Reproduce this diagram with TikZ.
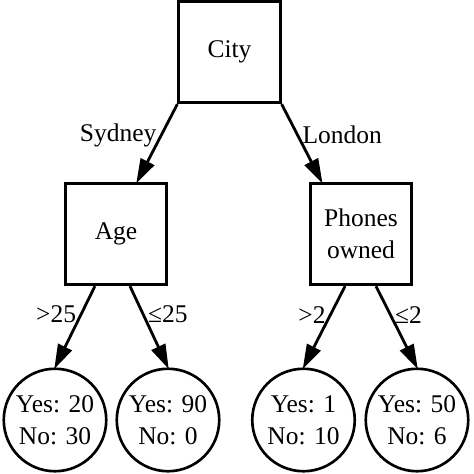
\documentclass[tikz,border=0pt]{standalone}
\usepackage{fontspec}
\setmainfont{Liberation Serif}
\usetikzlibrary{arrows.meta}

\begin{document}
\begin{tikzpicture}[x=0.02cm, y=-0.02cm, >={Triangle[length=14pt,width=8.5pt]},
  every node/.style={font=\fontsize{14.5}{18}\selectfont},
  test/.style={draw, line width=1.6pt, minimum size=2.03cm, align=center, inner sep=0pt},
  leaf/.style={draw, circle, line width=1.5pt, minimum size=2.05cm, align=center, inner sep=0pt},
  branch/.style={->, line width=1.6pt, shorten >=-1pt},
  lbl/.style={inner sep=2pt}]

\useasboundingbox (0,0) rectangle (474,474);

\node [test] (city) at (229.5,52) {City};
\node [test] (age) at (116,234) {Age};
\node [test] (phones) at (361,234) {Phones\\owned};

\foreach \n/\x/\t in {1/55/{Yes: 20\\No: 30}, 2/168/{Yes: 90\\No: 0},
                      3/303.5/{Yes: 1\\No: 10}, 4/417/{Yes: 50\\No: 6}}
  \node [leaf] (leaf-\n) at (\x,420) {\t};

\draw [branch] (city.south west) -- (age.68)
  node [lbl, pos=.4, left] {Sydney};
\draw [branch] (city.south east) -- (phones.127)
  node [lbl, pos=.4, right] {London};

\draw [branch] (age.-112) -- (leaf-1.north)
  node [lbl, pos=.35, left] {>25};
\draw [branch] (age.-75) -- (leaf-2.north)
  node [lbl, pos=.35, right] {≤25};
\draw [branch] (phones.-107) -- (leaf-3.north)
  node [lbl, pos=.35, left] {>2};
\draw [branch] (phones.-74) -- (leaf-4.north)
  node [lbl, pos=.35, right] {≤2};
\end{tikzpicture}
\end{document}
